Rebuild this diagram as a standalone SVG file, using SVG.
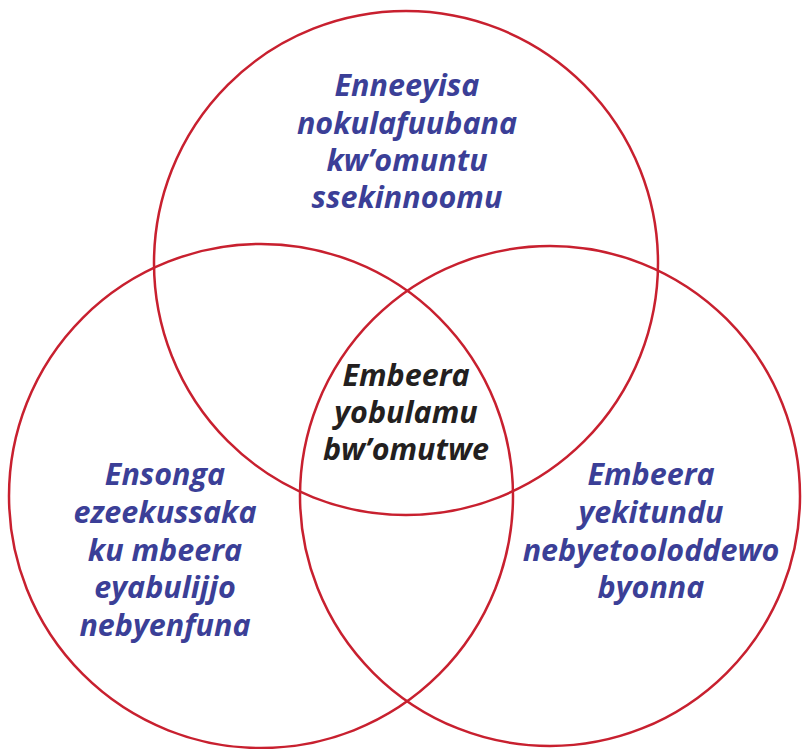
<svg xmlns="http://www.w3.org/2000/svg" width="802" height="749" viewBox="0 0 802 749">
<style>
.c{fill:none;stroke:#c8202f;stroke-width:2.5}
.t{font-family:"Open Sans","Liberation Sans",sans-serif;font-weight:700;font-style:italic;font-size:30.5px;text-anchor:middle;fill:#3b3f97}
.k{fill:#231f20}
</style>
<rect width="802" height="749" fill="#fff"/>
<g id="circle-top"><circle class="c" cx="406" cy="263" r="252"/></g>
<g id="circle-left"><circle class="c" cx="261" cy="496" r="252"/></g>
<g id="circle-right"><circle class="c" cx="550" cy="496" r="250"/></g>
<g id="label-top">
<text class="t" x="407" y="96">Enneeyisa</text>
<text class="t" x="407" y="134">nokulafuubana</text>
<text class="t" x="407" y="171">kw’omuntu</text>
<text class="t" x="407" y="208">ssekinnoomu</text>
</g>
<g id="label-left">
<text class="t" x="165" y="485">Ensonga</text>
<text class="t" x="165" y="523">ezeekussaka</text>
<text class="t" x="165" y="561">ku mbeera</text>
<text class="t" x="165" y="598">eyabulijjo</text>
<text class="t" x="165" y="636">nebyenfuna</text>
</g>
<g id="label-right">
<text class="t" x="651" y="485">Embeera</text>
<text class="t" x="651" y="523">yekitundu</text>
<text class="t" x="651" y="561">nebyetooloddewo</text>
<text class="t" x="651" y="598">byonna</text>
</g>
<g id="label-center">
<text class="t k" x="406" y="386">Embeera</text>
<text class="t k" x="406" y="423">yobulamu</text>
<text class="t k" x="406" y="460">bw’omutwe</text>
</g>
<g id="connectors"/>
</svg>
